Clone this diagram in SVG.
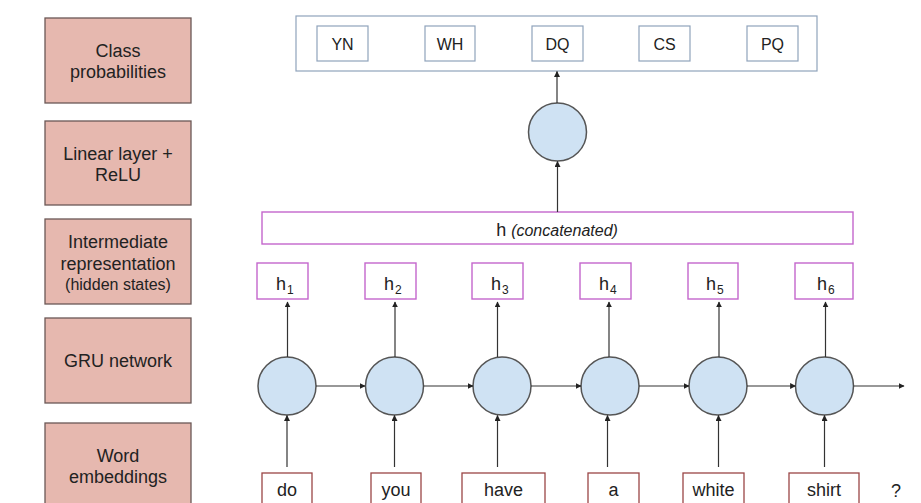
<svg xmlns="http://www.w3.org/2000/svg" width="921" height="503" viewBox="0 0 921 503">
  <style>
    text { font-family: "Liberation Sans", Arial, sans-serif; fill: #222; }
    .legend rect { fill: #e6b8af; stroke: #6b5856; stroke-width: 1.3; }
    .legend text { font-size: 18px; text-anchor: middle; }
    .legend .small { font-size: 16px; }
    .outbox { fill: #fff; stroke: #8fa6c2; stroke-width: 1.3; }
    .cls rect { fill: #fff; stroke: #8fa3bb; stroke-width: 1.2; }
    .cls text { font-size: 16px; text-anchor: middle; }
    .hid rect { fill: #fff; stroke: #c466cc; stroke-width: 1.4; }
    .hid text { font-size: 18px; }
    .hid .sub { font-size: 12px; }
    .cell circle { fill: #cfe2f3; stroke: #555; stroke-width: 1.5; }
    .word rect { fill: #fff; stroke: #9a4646; stroke-width: 1.3; }
    .word text { font-size: 18px; text-anchor: middle; }
    .conn line { stroke: #333; stroke-width: 1.2; marker-end: url(#arrow); }
  </style>
  <defs>
    <marker id="arrow" viewBox="0 0 10 10" refX="9" refY="5" markerWidth="5" markerHeight="5" markerUnits="strokeWidth" orient="auto">
      <path d="M0,0 L10,5 L0,10 z" fill="#222"/>
    </marker>
  </defs>

  <rect width="921" height="503" fill="#fff"/>

  <!-- legend column -->
  <g class="legend">
    <g id="legend-class">
      <rect x="45" y="18" width="146" height="85"/>
      <text x="118" y="57">Class</text>
      <text x="118" y="78">probabilities</text>
    </g>
    <g id="legend-linear">
      <rect x="45" y="121" width="146" height="84"/>
      <text x="118" y="160">Linear layer +</text>
      <text x="118" y="181">ReLU</text>
    </g>
    <g id="legend-hidden">
      <rect x="45" y="219" width="146" height="85"/>
      <text x="118" y="248">Intermediate</text>
      <text x="118" y="270">representation</text>
      <text class="small" x="118" y="290">(hidden states)</text>
    </g>
    <g id="legend-gru">
      <rect x="45" y="318" width="146" height="85"/>
      <text x="118" y="367">GRU network</text>
    </g>
    <g id="legend-embed">
      <rect x="45" y="423" width="146" height="90"/>
      <text x="118" y="462">Word</text>
      <text x="118" y="483">embeddings</text>
    </g>
  </g>

  <!-- class output layer -->
  <g id="classes" class="cls">
    <rect class="outbox" x="296" y="16" width="521" height="55"/>
    <g id="cls-yn"><rect x="317" y="26" width="51" height="35"/><text x="342.5" y="49.5">YN</text></g>
    <g id="cls-wh"><rect x="425" y="26" width="50" height="35"/><text x="450" y="49.5">WH</text></g>
    <g id="cls-dq"><rect x="532" y="26" width="51" height="35"/><text x="557.5" y="49.5">DQ</text></g>
    <g id="cls-cs"><rect x="639" y="26" width="51" height="35"/><text x="664.5" y="49.5">CS</text></g>
    <g id="cls-pq"><rect x="747" y="26" width="51" height="35"/><text x="772.5" y="49.5">PQ</text></g>
  </g>

  <!-- linear + ReLU unit -->
  <g id="linear" class="cell">
    <circle cx="557.5" cy="132" r="29"/>
  </g>

  <!-- concatenated hidden state -->
  <g id="concat" class="hid">
    <rect x="262" y="212" width="591" height="32"/>
    <text x="557" y="235.5" text-anchor="middle">h <tspan font-style="italic" font-size="16">(concatenated)</tspan></text>
  </g>

  <!-- per-step hidden states -->
  <g class="hid">
    <g id="h1"><rect x="257" y="263" width="51" height="36"/><text x="276" y="290">h<tspan class="sub" dx="1" dy="4">1</tspan></text></g>
    <g id="h2"><rect x="365" y="263" width="51" height="36"/><text x="384" y="290">h<tspan class="sub" dx="1" dy="4">2</tspan></text></g>
    <g id="h3"><rect x="472" y="263" width="51" height="36"/><text x="491" y="290">h<tspan class="sub" dx="1" dy="4">3</tspan></text></g>
    <g id="h4"><rect x="580" y="263" width="51" height="36"/><text x="599" y="290">h<tspan class="sub" dx="1" dy="4">4</tspan></text></g>
    <g id="h5"><rect x="688" y="263" width="50" height="36"/><text x="706" y="290">h<tspan class="sub" dx="1" dy="4">5</tspan></text></g>
    <g id="h6"><rect x="795" y="263" width="58" height="36"/><text x="817" y="290">h<tspan class="sub" dx="1" dy="4">6</tspan></text></g>
  </g>

  <!-- GRU cells -->
  <g class="cell">
    <g id="gru1"><circle cx="287" cy="386" r="29"/></g>
    <g id="gru2"><circle cx="394.5" cy="386" r="29"/></g>
    <g id="gru3"><circle cx="502" cy="386" r="29"/></g>
    <g id="gru4"><circle cx="610" cy="386" r="29"/></g>
    <g id="gru5"><circle cx="718" cy="386" r="29"/></g>
    <g id="gru6"><circle cx="824.5" cy="386" r="29"/></g>
  </g>

  <!-- input words -->
  <g class="word">
    <g id="w-do"><rect x="262" y="473" width="50" height="40"/><text x="287" y="496">do</text></g>
    <g id="w-you"><rect x="371" y="473" width="50" height="40"/><text x="396" y="496">you</text></g>
    <g id="w-have"><rect x="462" y="473" width="83" height="40"/><text x="503.5" y="496">have</text></g>
    <g id="w-a"><rect x="588" y="473" width="51" height="40"/><text x="613.5" y="496">a</text></g>
    <g id="w-white"><rect x="683" y="473" width="61" height="40"/><text x="713.5" y="496">white</text></g>
    <g id="w-shirt"><rect x="789" y="473" width="70" height="40"/><text x="824" y="496">shirt</text></g>
    <text x="896" y="497" font-size="17">?</text>
  </g>

  <!-- connectors -->
  <g class="conn">
    <!-- words to cells -->
    <line x1="287" y1="467" x2="287" y2="415.5"/>
    <line x1="394.5" y1="467" x2="394.5" y2="415.5"/>
    <line x1="497.5" y1="467" x2="497.5" y2="415.5"/>
    <line x1="607.5" y1="467" x2="607.5" y2="415.5"/>
    <line x1="718.5" y1="467" x2="718.5" y2="415.5"/>
    <line x1="824.5" y1="467" x2="824.5" y2="415.5"/>
    <!-- recurrence -->
    <line x1="316" y1="386" x2="365" y2="386"/>
    <line x1="423.5" y1="386" x2="473" y2="386"/>
    <line x1="531" y1="386" x2="581" y2="386"/>
    <line x1="639" y1="386" x2="689" y2="386"/>
    <line x1="747" y1="386" x2="795.5" y2="386"/>
    <line x1="853.5" y1="386" x2="904" y2="386"/>
    <!-- cells to hidden states -->
    <line x1="287.5" y1="357" x2="287.5" y2="302"/>
    <line x1="395" y1="357" x2="395" y2="302"/>
    <line x1="497.5" y1="357" x2="497.5" y2="302"/>
    <line x1="609" y1="357" x2="609" y2="302"/>
    <line x1="719" y1="357" x2="719" y2="302"/>
    <line x1="825.5" y1="357" x2="825.5" y2="302"/>
    <!-- concatenated to linear, linear to classes -->
    <line x1="557.5" y1="212" x2="557.5" y2="161.5"/>
    <line x1="557" y1="103" x2="557" y2="71.5"/>
  </g>
</svg>
